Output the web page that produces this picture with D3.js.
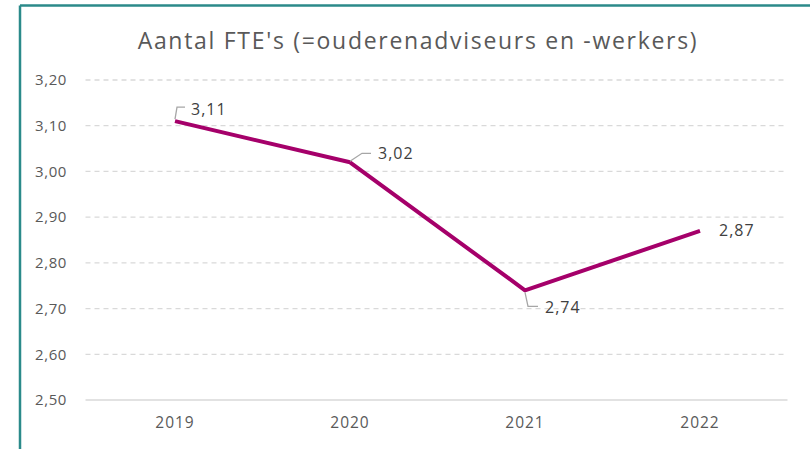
<!DOCTYPE html>
<html>
<head>
<meta charset="utf-8">
<script src="https://cdn.jsdelivr.net/npm/d3@7"></script>
<style>
  body { margin: 0; background: #fff; }
  svg { display: block; font-family: "Open Sans", "Noto Sans", sans-serif; }
</style>
</head>
<body>
<div id="chart"></div>
<script>
// data
var years = ["2019", "2020", "2021", "2022"]
var fte = [3.11, 3.02, 2.74, 2.87]
var yTicks = [2.5, 2.6, 2.7, 2.8, 2.9, 3.0, 3.1, 3.2]
var chartTitle = "Aantal FTE's (=ouderenadviseurs en -werkers)"

var width = 810, height = 449
var margin = {left: 87.5, right: 22.5, top: 80, bottom: 49}

var svg = d3.select("#chart").append("svg")
  .attr("width", width)
  .attr("height", height)

// frame (teal border on top and left)
svg.append("line").attr("x1", 20).attr("y1", 5.5).attr("x2", width).attr("y2", 5.5)
  .attr("stroke", "#2b8a8a").attr("stroke-width", 2.5)
svg.append("line").attr("x1", 20).attr("y1", 5.5).attr("x2", 20).attr("y2", height)
  .attr("stroke", "#2b8a8a").attr("stroke-width", 2.5)

var x = d3.scalePoint().domain(years)
  .range([margin.left, width - margin.right]).padding(0.5)
var y = d3.scaleLinear().domain([2.5, 3.2])
  .range([height - margin.bottom, margin.top])

var fmt = function(v){ return d3.format(".2f")(v).replace(".", ",") }

// title
svg.append("text")
  .attr("x", 418).attr("y", 49)
  .attr("text-anchor", "middle")
  .style("font-size", "23px")
  .style("letter-spacing", "1.7px")
  .style("fill", "#595959")
  .text(chartTitle)

// gridlines
svg.append("g").selectAll("line")
  .data(yTicks)
  .join("line")
  .attr("x1", margin.left - 2)
  .attr("x2", width - margin.right)
  .attr("y1", d => y(d)).attr("y2", d => y(d))
  .attr("stroke", "#d9d9d9")
  .attr("stroke-width", 1.3)
  .attr("stroke-dasharray", d => d === 2.5 ? null : "5,4")

// y axis labels
svg.append("g").selectAll("text")
  .data(yTicks)
  .join("text")
  .attr("x", 67).attr("y", d => y(d))
  .attr("dy", "0.35em")
  .attr("text-anchor", "end")
  .style("font-size", "15px")
  .style("letter-spacing", "0.6px")
  .style("fill", "#595959")
  .text(d => fmt(d))

// x axis labels
svg.append("g").selectAll("text")
  .data(years)
  .join("text")
  .attr("x", d => x(d)).attr("y", y(2.5) + 23)
  .attr("dy", "0.35em")
  .attr("text-anchor", "middle")
  .style("font-size", "15.5px")
  .style("letter-spacing", "1px")
  .style("fill", "#595959")
  .text(d => d)

// line
var pts = years.map((yr, i) => ({year: yr, value: fte[i]}))
svg.append("path")
  .datum(pts)
  .attr("fill", "none")
  .attr("stroke", "#a5006a")
  .attr("stroke-width", 4)
  .attr("stroke-linejoin", "round")
  .attr("d", d3.line().x(d => x(d.year)).y(d => y(d.value)))

// data labels with leader lines (offsets relative to each point)
var labelOffsets = [
  {dx: 16, dy: -12, leader: [[0, -2], [2, -14], [10, -14]]},
  {dx: 28, dy: -9, leader: [[0, -1], [12, -9], [21, -9]]},
  {dx: 20, dy: 17, leader: [[0, 2], [3, 16], [13, 16]]},
  {dx: 19, dy: 0, leader: null}
]

var lbl = svg.append("g").selectAll("g")
  .data(pts)
  .join("g")
  .attr("transform", d => `translate(${x(d.year)},${y(d.value)})`)

lbl.filter((d, i) => labelOffsets[i].leader)
  .append("path")
  .attr("fill", "none")
  .attr("stroke", "#a6a6a6")
  .attr("stroke-width", 1.3)
  .attr("d", (d, i) => d3.line()(labelOffsets[i].leader))

lbl.append("text")
  .attr("x", (d, i) => labelOffsets[i].dx)
  .attr("y", (d, i) => labelOffsets[i].dy)
  .attr("dy", "0.35em")
  .style("font-size", "16px")
  .style("letter-spacing", "1px")
  .style("fill", "#404040")
  .text(d => fmt(d.value))
</script>
</body>
</html>
